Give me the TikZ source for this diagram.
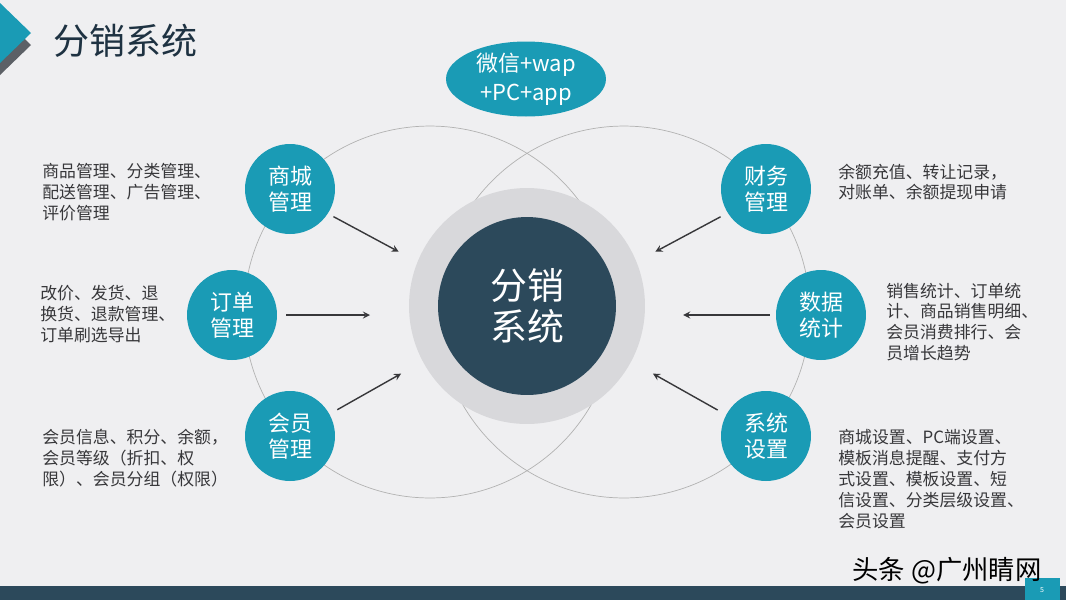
\documentclass[tikz,border=0pt]{standalone}
\usepackage{fontspec}
\setmainfont{Noto Sans CJK SC}
\usetikzlibrary{shapes.geometric}
\definecolor{brandteal}{RGB}{26,155,181}
\definecolor{slate}{RGB}{44,73,91}
\definecolor{ringgray}{RGB}{216,216,219}
\definecolor{paper}{RGB}{239,239,241}
\definecolor{ink}{RGB}{55,55,58}
\definecolor{titleink}{RGB}{30,50,66}
\definecolor{shadowgray}{RGB}{92,96,102}

\begin{document}
\begin{tikzpicture}[x=0.02cm, y=-0.02cm, >=stealth]
        % Styles
        \tikzset{module/.style={circle, fill=brandteal, text=white, minimum size=1.8cm, inner sep=0pt, align=center, font=\fontsize{12.5}{15}\selectfont}}
        \tikzset{note/.style={anchor=west, align=left, inner sep=0pt, text=ink, font=\fontsize{9.6}{11.9}\selectfont}}
        \tikzset{orbit/.style={draw=gray!60, line width=0.4pt}}
        \tikzset{flow/.style={->, line width=0.8pt, draw=ink}}

        % Page
        \fill[paper] (0,0) rectangle (1066,600);
        \useasboundingbox (0,0) rectangle (1066,600);
        \fill[shadowgray] (0,15) -- (31,45) -- (0,75) -- cycle;
        \fill[brandteal] (0,3) -- (31,33) -- (0,63) -- cycle;
        \node[anchor=west, text=titleink, font=\fontsize{20.5}{22}\selectfont] (title) at (47,41) {分销系统};

        % Orbits
        \coordinate (hub) at (527,306);
        \draw[orbit] (hub) ++(-97,6) circle[radius=3.72cm];
        \draw[orbit] (hub) ++(97,6) circle[radius=3.72cm];

        % Core
        \node[circle, fill=ringgray, minimum size=4.72cm] (core) at (hub) {};
        \node[circle, fill=slate, text=white, minimum size=3.56cm, align=center, font=\fontsize{21}{23}\selectfont] (corelabel) at (hub) {分销\\系统};
        \node[ellipse, fill=brandteal, text=white, minimum width=3.2cm, minimum height=1.5cm, inner sep=0pt, align=center, font=\fontsize{12.5}{16.5}\selectfont] (channel) at (526,79) {微信+wap\\+PC+app};

        % Modules
        \node[module] (shop) at (290,189) {商城\\管理};
        \node[module] (order) at (232,315) {订单\\管理};
        \node[module] (member) at (290,436) {会员\\管理};
        \node[module] (finance) at (766,189) {财务\\管理};
        \node[module] (stats) at (821,315) {数据\\统计};
        \node[module] (settings) at (766,436) {系统\\设置};

        % Notes
        \node[note] (shopnote) at (42,192) {商品管理、分类管理、\\配送管理、广告管理、\\评价管理};
        \node[note] (ordernote) at (40,314) {改价、发货、退\\换货、退款管理、\\订单刷选导出};
        \node[note] (membernote) at (42,458) {会员信息、积分、余额，\\会员等级（折扣、权\\限）、会员分组（权限）};
        \node[note] (financenote) at (838,182) {余额充值、转让记录，\\对账单、余额提现申请};
        \node[note] (statsnote) at (886,322) {销售统计、订单统\\计、商品销售明细、\\会员消费排行、会\\员增长趋势};
        \node[note] (settingsnote) at (838,479) {商城设置、PC端设置、\\模板消息提醒、支付方\\式设置、模板设置、短\\信设置、分类层级设置、\\会员设置};

        % Connections
        \draw[flow, shorten <=3.5pt, shorten >=12pt] (shop.-33) -- (core.158);
        \draw[flow, shorten <=5pt, shorten >=22pt] (order.east) -- (order.east -| core.west);
        \draw[flow, shorten <=5pt, shorten >=14pt] (member.29) -- (core.-152);
        \draw[flow, shorten <=4.5pt, shorten >=12pt] (finance.212) -- (core.22);
        \draw[flow, shorten <=3.5pt, shorten >=21.5pt] (stats.west) -- (stats.west -| core.east);
        \draw[flow, shorten <=5.4pt, shorten >=14pt] (settings.152) -- (core.-28);

        % Footer
        \fill[slate] (0,586) rectangle (1066,600);
        \fill[brandteal] (1025,578) rectangle (1060,600);
        \node[text=white, font=\fontsize{4}{4}\selectfont] (pageno) at (1042,590) {5};
        \node[text=black, font=\fontsize{15}{15}\selectfont] (mark) at (947,571) {头条 @广州睛网};
    \end{tikzpicture}
\end{document}
